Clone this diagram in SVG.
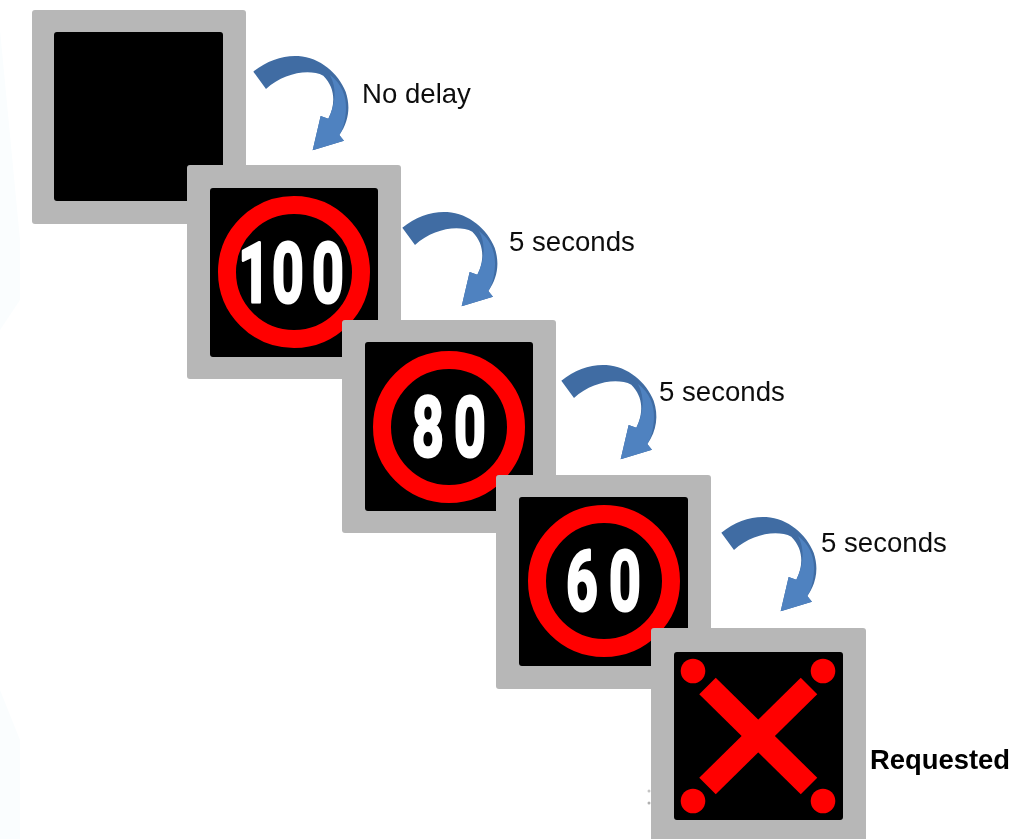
<svg xmlns="http://www.w3.org/2000/svg" width="1021" height="839" viewBox="0 0 1021 839">
<style>
.panel{fill:#b7b7b7}
.screen{fill:#000}
.ring{fill:none;stroke:#f00;stroke-width:18}
.num{font-family:Roboto,"Liberation Sans",Arial,sans-serif;font-weight:700;font-size:84px;fill:#fff;stroke:#fff;stroke-width:3;stroke-linejoin:round;text-anchor:middle}
.lbl{font-family:"Liberation Sans",Arial,sans-serif;font-size:27.6px;fill:#111}
.req{font-family:"Liberation Sans",Arial,sans-serif;font-size:27.4px;font-weight:700;fill:#000}
.bar{stroke:#f00;stroke-width:23.5}
.dot{fill:#f00}
.arrow-base{fill:#3f6ca3}
.arrow-light{fill:#4f82c0}
</style>
<defs>
<filter id="soft" x="-2%" y="-2%" width="104%" height="104%"><feGaussianBlur stdDeviation="0.5"/></filter>
<g id="curved-arrow" transform="scale(0.3333)">
<path class="arrow-base" d="M220,155 C260,122 310,105 355,108 C420,112 475,160 497,215 C512,258 507,305 478,345 L492,362 L398,391 L422,288 L445,296 C466,255 468,205 430,167 C385,145 310,160 258,207 Z"/>
<path class="arrow-light" d="M450,165 C484,190 500,228 498,268 C496,305 488,330 478,345 L492,362 L398,391 L422,288 L445,296 C466,255 472,205 450,165 Z"/>
</g>
</defs>
<rect width="1021" height="839" fill="#fff"/>
<g filter="url(#soft)">
<g id="background">
<path d="M0,30 L20,240 L20,300 L0,330 Z" fill="#fafdfe"/>
<path d="M0,690 L20,740 L20,839 L0,839 Z" fill="#fafdfe"/>
<circle cx="649" cy="791" r="1.5" fill="#c4c4c4"/>
<circle cx="649" cy="803" r="1.5" fill="#b0b0b0"/>
</g>
<g id="node-blank">
<rect class="panel" x="32" y="10" width="214" height="214" rx="3"/>
<rect class="screen" x="54" y="32" width="169" height="169" rx="3"/>
</g>
<g id="node-100">
<rect class="panel" x="187" y="165" width="214" height="214" rx="3"/>
<rect class="screen" x="210" y="188" width="168" height="169" rx="3"/>
<circle class="ring" cx="294" cy="272" r="67"/>
<text class="num" transform="translate(0,302) scale(0.66,1)" x="385 436.4 497">100</text>
</g>
<g id="node-80">
<rect class="panel" x="342" y="320" width="214" height="213" rx="3"/>
<rect class="screen" x="365" y="342" width="168" height="169" rx="3"/>
<circle class="ring" cx="449" cy="427" r="67"/>
<text class="num" transform="translate(0,456) scale(0.66,1)" x="648.5 712">80</text>
</g>
<g id="node-60">
<rect class="panel" x="496" y="475" width="215" height="214" rx="3"/>
<rect class="screen" x="519" y="497" width="169" height="169" rx="3"/>
<circle class="ring" cx="604" cy="581" r="67"/>
<text class="num" transform="translate(0,610) scale(0.66,1)" x="881.8 947">60</text>
</g>
<g id="node-x">
<rect class="panel" x="651" y="628" width="215" height="220" rx="3"/>
<rect class="screen" x="674" y="652" width="169" height="168" rx="3"/>
<line class="bar" x1="707.5" y1="686" x2="809" y2="786"/>
<line class="bar" x1="809" y1="686" x2="707.5" y2="786"/>
<circle class="dot" cx="693" cy="671" r="12.3"/>
<circle class="dot" cx="823" cy="671" r="12.3"/>
<circle class="dot" cx="693" cy="801" r="12.3"/>
<circle class="dot" cx="823" cy="801" r="12.3"/>
</g>
<g id="connectors">
<use href="#curved-arrow" transform="translate(180,20)"/>
<use href="#curved-arrow" transform="translate(329,176)"/>
<use href="#curved-arrow" transform="translate(488,329)"/>
<use href="#curved-arrow" transform="translate(648,481)"/>
</g>
<g id="labels">
<text class="lbl" x="362" y="103">No delay</text>
<text class="lbl" x="509" y="251">5 seconds</text>
<text class="lbl" x="659" y="401">5 seconds</text>
<text class="lbl" x="821" y="552">5 seconds</text>
<text class="req" x="870" y="769">Requested</text>
</g>
</g>
</svg>
